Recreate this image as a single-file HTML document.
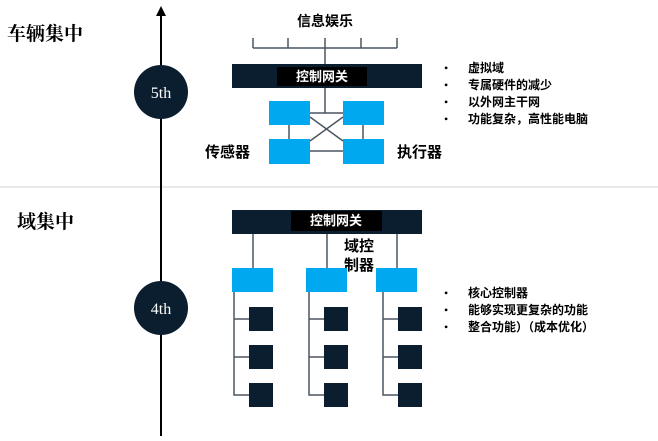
<!DOCTYPE html>
<html><head><meta charset="utf-8"><style>
body{margin:0;background:#fff;}
svg text{font-family:"Liberation Serif","Noto Serif CJK SC",serif;}
svg text.cj{font-family:"Liberation Sans","Noto Sans CJK SC",sans-serif;font-weight:bold;}
svg text.hd{font-family:"Liberation Serif","Noto Serif CJK SC",serif;font-weight:bold;}
</style></head><body>
<svg width="658" height="436" viewBox="0 0 658 436" xmlns="http://www.w3.org/2000/svg">
<rect width="658" height="436" fill="#fff"/>
<line x1="0" y1="187" x2="658" y2="187" stroke="#e4e4e4" stroke-width="1.5"/>
<line x1="161" y1="14" x2="161" y2="436" stroke="#000" stroke-width="2"/>
<polygon points="161,6 156,16 166,16" fill="#000"/>
<circle cx="161" cy="92" r="27" fill="#0b1e2f"/>
<text x="161" y="98" fill="#fff" font-size="16" text-anchor="middle">5th</text>
<circle cx="161" cy="308" r="27" fill="#0b1e2f"/>
<text x="161" y="314" fill="#fff" font-size="16" text-anchor="middle">4th</text>
<text x="7" y="40" font-size="19" class="hd">车辆集中</text>
<text x="17" y="228" font-size="19" class="hd">域集中</text>

<text x="325" y="26" font-size="14" class="cj" text-anchor="middle">信息娱乐</text>
<g stroke="#4a5560" stroke-width="1.5" fill="none">
<line x1="253" y1="48" x2="397" y2="48"/>
<line x1="253" y1="38" x2="253" y2="48"/><line x1="288" y1="38" x2="288" y2="48"/><line x1="325" y1="38" x2="325" y2="64"/><line x1="361" y1="38" x2="361" y2="48"/><line x1="397" y1="38" x2="397" y2="48"/>
<line x1="325" y1="88" x2="325" y2="113"/>
<line x1="310" y1="113" x2="343" y2="113"/>
<line x1="289" y1="125" x2="289" y2="139"/><line x1="363" y1="125" x2="363" y2="139"/>
<line x1="310" y1="117" x2="343" y2="141"/><line x1="343" y1="117" x2="310" y2="141"/>
<line x1="310" y1="151" x2="343" y2="151"/>
</g>
<rect x="232" y="64" width="190" height="24" fill="#0b1e2f"/>
<rect x="277" y="67" width="90" height="19" fill="#000"/>
<text x="322" y="81" font-size="13" fill="#fff" class="cj" text-anchor="middle">控制网关</text>
<g fill="#00a8f0">
<rect x="269" y="101" width="41" height="24"/><rect x="343" y="101" width="41" height="24"/>
<rect x="269" y="139" width="41" height="25"/><rect x="343" y="139" width="41" height="25"/>
</g>
<text x="205" y="157" font-size="15" class="cj">传感器</text>
<text x="397" y="157" font-size="15" class="cj">执行器</text>
<text x="444" y="72" font-size="12">•</text><text x="468" y="72" font-size="12" class="cj">虚拟域</text>
<text x="444" y="89" font-size="12">•</text><text x="468" y="89" font-size="12" class="cj">专属硬件的减少</text>
<text x="444" y="106" font-size="12">•</text><text x="468" y="106" font-size="12" class="cj">以外网主干网</text>
<text x="444" y="123" font-size="12">•</text><text x="468" y="123" font-size="12" class="cj">功能复杂，高性能电脑</text>

<g stroke="#4a5560" stroke-width="1.5" fill="none">
<line x1="253" y1="234" x2="253" y2="268"/><line x1="327" y1="234" x2="327" y2="268"/><line x1="397" y1="234" x2="397" y2="268"/>
<path d="M234 292V395H249M234 319H249M234 357H249"/>
<path d="M309 292V395H324M309 319H324M309 357H324"/>
<path d="M383 292V395H398M383 319H398M383 357H398"/>
</g>
<rect x="232" y="210" width="190" height="24" fill="#0b1e2f"/>
<rect x="291" y="211" width="91" height="20" fill="#000"/>
<text x="336" y="225" font-size="13" fill="#fff" class="cj" text-anchor="middle">控制网关</text>
<text x="344" y="251" font-size="15" class="cj">域控</text>
<text x="344" y="270" font-size="15" class="cj">制器</text>
<g fill="#00a8f0">
<rect x="232" y="268" width="41" height="24"/><rect x="306" y="268" width="41" height="24"/><rect x="376" y="268" width="41" height="24"/>
</g>
<g fill="#0b1e2f">
<rect x="249" y="307" width="24" height="24"/><rect x="249" y="345" width="24" height="24"/><rect x="249" y="383" width="24" height="24"/>
<rect x="324" y="307" width="24" height="24"/><rect x="324" y="345" width="24" height="24"/><rect x="324" y="383" width="24" height="24"/>
<rect x="398" y="307" width="24" height="24"/><rect x="398" y="345" width="24" height="24"/><rect x="398" y="383" width="24" height="24"/>
</g>
<text x="444" y="297" font-size="12">•</text><text x="468" y="297" font-size="12" class="cj">核心控制器</text>
<text x="444" y="314" font-size="12">•</text><text x="468" y="314" font-size="12" class="cj">能够实现更复杂的功能</text>
<text x="444" y="331" font-size="12">•</text><text x="468" y="331" font-size="12" class="cj">整合功能）（成本优化）</text>
</svg>
</body></html>
